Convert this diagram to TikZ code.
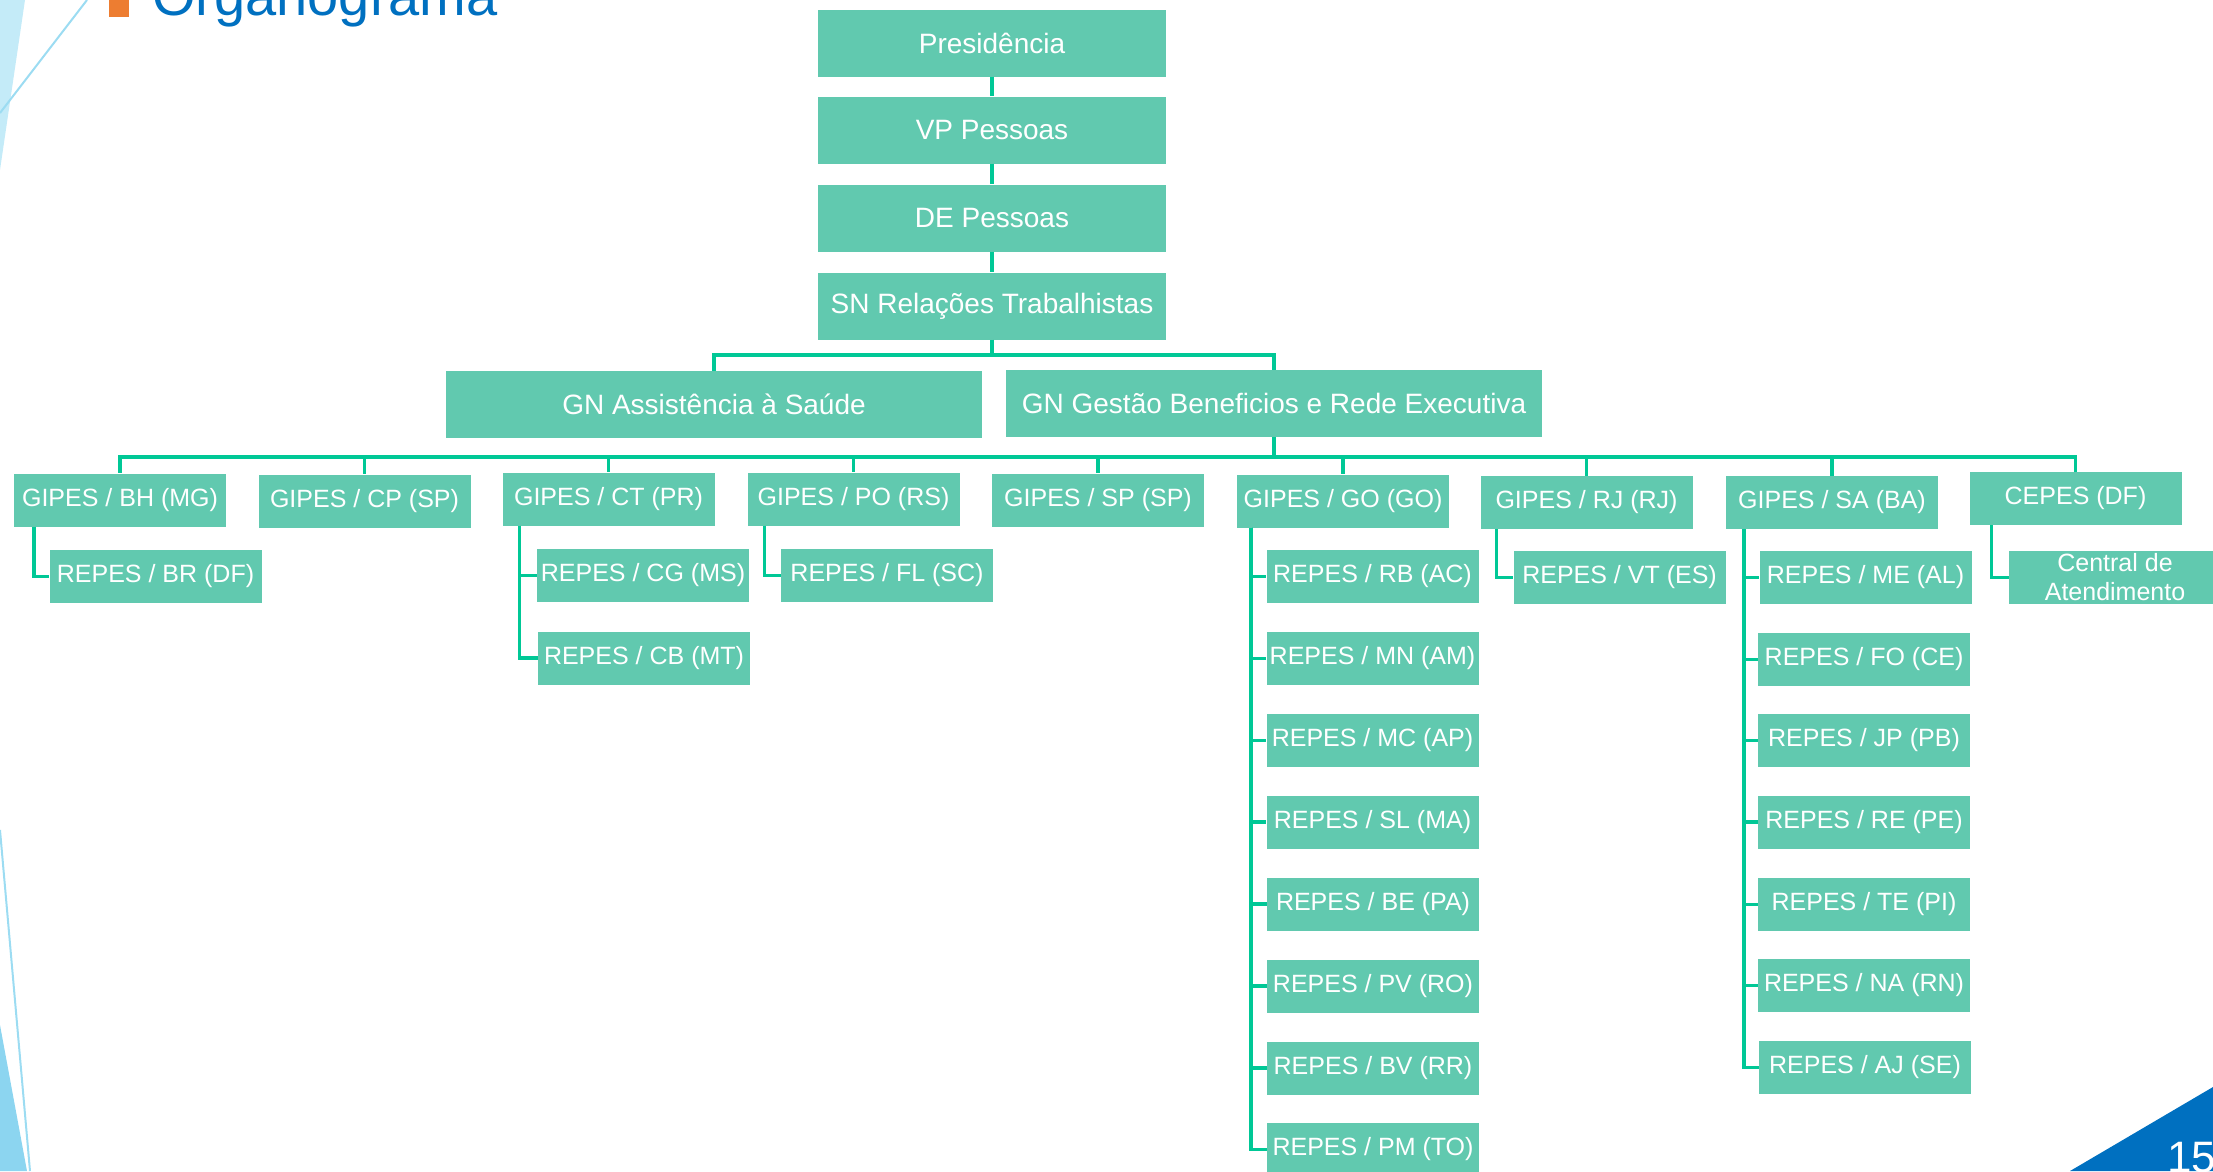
\documentclass[tikz,border=0pt]{standalone}
\usepackage{fontspec}
\setmainfont{Liberation Sans}
\definecolor{boxgreen}{HTML}{61C9AF}
\definecolor{linegreen}{HTML}{00C896}
\definecolor{titleblue}{HTML}{0070C0}
\definecolor{bulletorange}{HTML}{ED7D31}
\definecolor{decoblue}{HTML}{C4EBF8}
\definecolor{decoline}{HTML}{9CDCF2}
\definecolor{decodeep}{HTML}{8CD5F0}
\begin{document}
\begin{tikzpicture}
[
    x=1pt, y=-1pt,
    topbox/.style={fill=boxgreen, text=white, inner sep=0pt, minimum width=348pt, minimum height=67pt, font=\fontsize{28}{32}\selectfont},
    gnbox/.style={topbox, minimum width=536pt},
    unitbox/.style={fill=boxgreen, text=white, inner sep=0pt, minimum width=212pt, minimum height=53pt, font=\fontsize{25}{29}\selectfont},
    link/.style={draw=linegreen, line width=3.5pt},
]
\useasboundingbox (0,0) rectangle (2213,1171);
\clip (0,0) rectangle (2213,1171);
% slide decoration
\fill[decoblue] (0,0) -- (25,0) -- (0,170) -- cycle;
\draw[decoline, line width=2pt] (87,0) -- (0,113);
\draw[decoline, line width=2pt] (0,830) -- (30,1171);
\fill[decodeep] (0,1025) -- (27,1171) -- (0,1171) -- cycle;
\fill[titleblue] (2070,1171) -- (2213,1087) -- (2213,1171) -- cycle;
\node[anchor=base west, inner sep=0pt, text=white, font=\fontsize{44}{48}\selectfont] (pagenum) at (2167,1172) {15};
% title
\fill[bulletorange] (109,-20) rectangle (129,17);
\node[anchor=base west, inner sep=0pt, text=titleblue, font=\fontsize{56}{60}\selectfont] (title) at (152,15) {Organograma};
% top of the chart
\node[topbox] (pres) at (992,43) {Presidência};
\node[topbox] (vp) at (992,130) {VP Pessoas};
\node[topbox] (de) at (992,218) {DE Pessoas};
\node[topbox] (sn) at (992,306) {SN Relações Trabalhistas};
\node[gnbox] (gnAS) at (714,404.5) {GN Assistência à Saúde};
\node[gnbox] (gnGB) at (1274,403.5) {GN Gestão Beneficios e Rede Executiva};
\coordinate (busA) at (992,355);
\coordinate (busB) at (1274,457);
% gipes
\node[unitbox] (gBH) at (120,500) {GIPES / BH (MG)};
\node[unitbox] (gCP) at (364.5,501) {GIPES / CP (SP)};
\node[unitbox] (gCT) at (608.5,499) {GIPES / CT (PR)};
\node[unitbox] (gPO) at (853.5,499) {GIPES / PO (RS)};
\node[unitbox] (gSP) at (1098,500) {GIPES / SP (SP)};
\node[unitbox] (gGO) at (1343,501) {GIPES / GO (GO)};
\node[unitbox] (gRJ) at (1586.5,502.5) {GIPES / RJ (RJ)};
\node[unitbox] (gSA) at (1832,502.5) {GIPES / SA (BA)};
\node[unitbox] (cDF) at (2075.5,498.5) {CEPES (DF)};
% repes
\node[unitbox] (rBR) at (155.5,576.5) {REPES / BR (DF)};
\node[unitbox] (rCG) at (643,575.5) {REPES / CG (MS)};
\node[unitbox] (rCB) at (644,658) {REPES / CB (MT)};
\node[unitbox] (rFL) at (887,575.5) {REPES / FL (SC)};
\node[unitbox] (rRB) at (1372.5,576.5) {REPES / RB (AC)};
\node[unitbox] (rMN) at (1372.5,658.5) {REPES / MN (AM)};
\node[unitbox] (rMC) at (1372.5,740.5) {REPES / MC (AP)};
\node[unitbox] (rSL) at (1372.5,822) {REPES / SL (MA)};
\node[unitbox] (rBE) at (1373,904) {REPES / BE (PA)};
\node[unitbox] (rPV) at (1373,986) {REPES / PV (RO)};
\node[unitbox] (rBV) at (1373,1068) {REPES / BV (RR)};
\node[unitbox] (rPM) at (1373,1149.5) {REPES / PM (TO)};
\node[unitbox] (rVT) at (1619.5,577.5) {REPES / VT (ES)};
\node[unitbox] (rME) at (1865.5,577.5) {REPES / ME (AL)};
\node[unitbox] (rFO) at (1864,659.5) {REPES / FO (CE)};
\node[unitbox] (rJP) at (1864,740.5) {REPES / JP (PB)};
\node[unitbox] (rRE) at (1864,822) {REPES / RE (PE)};
\node[unitbox] (rTE) at (1864,904.5) {REPES / TE (PI)};
\node[unitbox] (rNA) at (1864,985.5) {REPES / NA (RN)};
\node[unitbox] (rAJ) at (1865,1067.5) {REPES / AJ (SE)};
\node[unitbox, align=center] (cAT) at (2115,577.5) {Central de\\Atendimento};
% links
\draw[link] (pres) -- (vp);
\draw[link] (vp) -- (de);
\draw[link] (de) -- (sn);
\draw[link] (sn) -- (busA);
\draw[link] (busA) -| (gnAS);
\draw[link] (busA) -| (gnGB);
\draw[link] (gnGB) -- (busB);
\draw[link] (busB) -| (gBH);
\draw[link] (busB) -| (gCP);
\draw[link] (busB) -| (gCT);
\draw[link] (busB) -| (gPO);
\draw[link] (busB) -| (gSP);
\draw[link] (busB) -| (gGO);
\draw[link] (busB) -| (gRJ);
\draw[link] (busB) -| (gSA);
\draw[link] (busB) -| (cDF);
\draw[link] (gBH.south west) ++(20,0) |- (rBR.west);
\draw[link] (gCT.south west) ++(17,0) |- (rCG.west);
\draw[link] (gCT.south west) ++(17,0) |- (rCB.west);
\draw[link] (gPO.south west) ++(17,0) |- (rFL.west);
\draw[link] (gGO.south west) ++(14,0) |- (rRB.west);
\draw[link] (gGO.south west) ++(14,0) |- (rMN.west);
\draw[link] (gGO.south west) ++(14,0) |- (rMC.west);
\draw[link] (gGO.south west) ++(14,0) |- (rSL.west);
\draw[link] (gGO.south west) ++(14,0) |- (rBE.west);
\draw[link] (gGO.south west) ++(14,0) |- (rPV.west);
\draw[link] (gGO.south west) ++(14,0) |- (rBV.west);
\draw[link] (gGO.south west) ++(14,0) |- (rPM.west);
\draw[link] (gRJ.south west) ++(16,0) |- (rVT.west);
\draw[link] (gSA.south west) ++(18,0) |- (rME.west);
\draw[link] (gSA.south west) ++(18,0) |- (rFO.west);
\draw[link] (gSA.south west) ++(18,0) |- (rJP.west);
\draw[link] (gSA.south west) ++(18,0) |- (rRE.west);
\draw[link] (gSA.south west) ++(18,0) |- (rTE.west);
\draw[link] (gSA.south west) ++(18,0) |- (rNA.west);
\draw[link] (gSA.south west) ++(18,0) |- (rAJ.west);
\draw[link] (cDF.south west) ++(22,0) |- (cAT.west);
\end{tikzpicture}
\end{document}
